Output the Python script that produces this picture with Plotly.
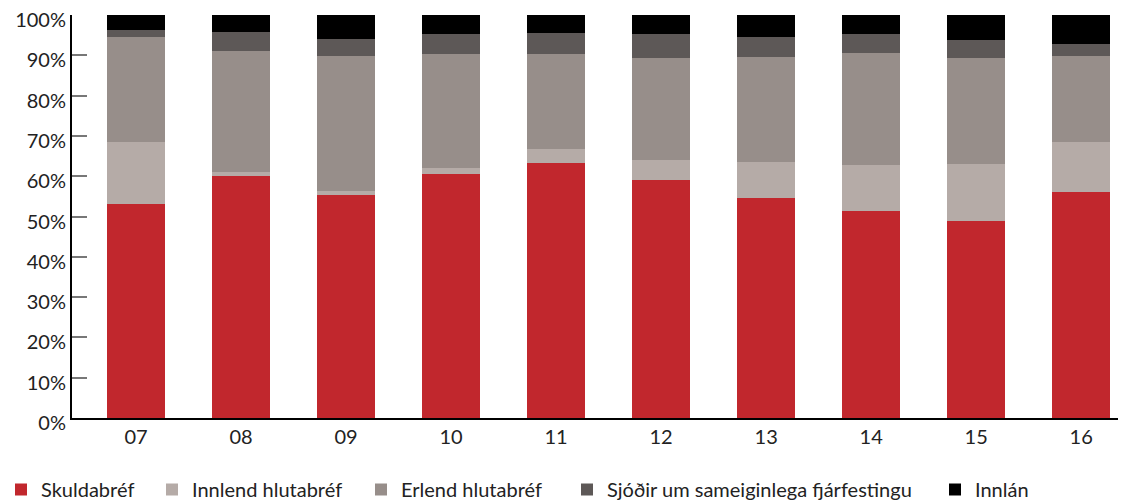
import plotly.graph_objects as go

years = ["07", "08", "09", "10", "11", "12", "13", "14", "15", "16"]
skuldabref = [53.1, 60.0, 55.3, 60.5, 63.3, 59.1, 54.6, 51.4, 48.9, 56.1]
innlend = [15.4, 1.0, 1.0, 1.5, 3.4, 4.9, 8.9, 11.4, 14.1, 12.4]
erlend = [26.0, 30.1, 33.5, 28.3, 23.6, 25.3, 26.1, 27.8, 26.3, 21.3]
sjodir = [1.8, 4.7, 4.2, 5.0, 5.2, 6.0, 4.9, 4.7, 4.5, 3.0]
innlan = [3.7, 4.2, 6.0, 4.7, 4.5, 4.7, 5.5, 4.7, 6.2, 7.2]

series = [
    ("Skuldabréf", skuldabref, "#C1272D"),
    ("Innlend hlutabréf", innlend, "#B5ABA7"),
    ("Erlend hlutabréf", erlend, "#978E8A"),
    ("Sjóðir um sameiginlega fjárfestingu", sjodir, "#5D5857"),
    ("Innlán", innlan, "#000000"),
]

# page offset of the figure div (default body margin)
OFF = 8
# legend text start positions (page px) in the reference
legend_text_px = [42, 193, 402, 608, 976]

W, H = 1126 - OFF, 500 - OFF
ML, MR, MT, MB = 72 - OFF, 6, 15 - OFF, 500 - 418
plot_w = W - ML - MR
plot_h = H - MT - MB

font_family = "Lato, 'Noto Sans', sans-serif"

fig = go.Figure()
legend_layouts = {}
for i, (name, vals, color) in enumerate(series):
    lname = "legend" if i == 0 else f"legend{i + 1}"
    fig.add_trace(go.Bar(x=years, y=vals, name=name, marker_color=color,
                         marker_line_width=0, width=0.552, legend=lname))
    left_fig_px = legend_text_px[i] - OFF - 41
    legend_layouts[lname] = dict(
        orientation="h", x=(left_fig_px - ML) / plot_w, xanchor="left",
        y=-((470 - OFF) - (MT + plot_h)) / plot_h, yanchor="top",
        font=dict(size=20, color="#222222", family=font_family),
        itemwidth=30, bgcolor="rgba(0,0,0,0)",
    )

fig.update_layout(
    barmode="stack",
    width=W, height=H,
    margin=dict(l=ML, r=MR, t=MT, b=MB, autoexpand=False),
    plot_bgcolor="white", paper_bgcolor="white",
    font=dict(family=font_family, size=20, color="#222222"),
    showlegend=True,
    xaxis=dict(type="category", range=[-0.61, 9.37], showline=True, linecolor="#000000",
               linewidth=2, ticks="", tickfont=dict(size=20), showgrid=False,
               automargin=False),
    yaxis=dict(range=[0, 100], dtick=10, ticksuffix="%", showline=True, linecolor="#000000",
               linewidth=2, ticks="inside", ticklen=15, tickwidth=2, tickcolor="#777777",
               showgrid=False, zeroline=False, tickfont=dict(size=20), automargin=False,
               ticklabeloverflow="allow", ticklabelshift=5),
    **legend_layouts,
)

fig.write_html("out.html")
